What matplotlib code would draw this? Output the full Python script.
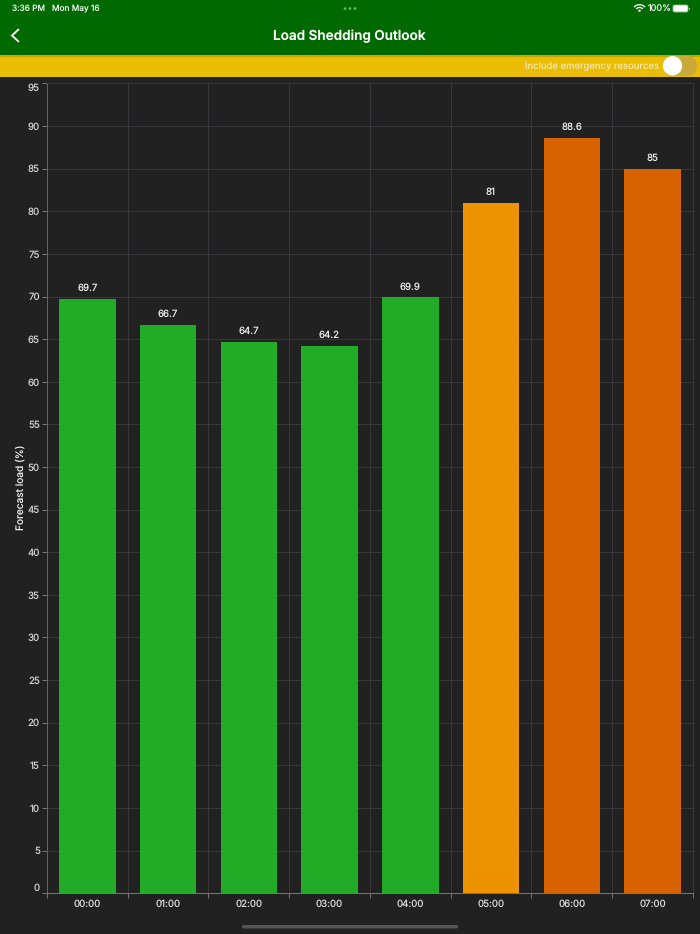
import matplotlib
matplotlib.use('Agg')
import matplotlib.pyplot as plt
from matplotlib.patches import Rectangle, FancyBboxPatch, Circle, Wedge
from matplotlib.lines import Line2D

hours = ['00:00', '01:00', '02:00', '03:00', '04:00', '05:00', '06:00', '07:00']
load = [69.7, 66.7, 64.7, 64.2, 69.9, 81, 88.6, 85]
value_labels = ['69.7', '66.7', '64.7', '64.2', '69.9', '81', '88.6', '85']
colors = ['#22AB26'] * 5 + ['#EE9300', '#D96200', '#D96200']
yticks = list(range(0, 100, 5))

W, H = 700, 934
BG = '#212121'
plt.rcParams['font.family'] = ['Inter', 'Roboto', 'DejaVu Sans']
plt.rcParams['text.hinting'] = 'no_hinting'
plt.rcParams['text.hinting_factor'] = 1
fig = plt.figure(figsize=(W / 100, H / 100), dpi=100, facecolor=BG)

# Chart
L, R, T, B = 46.9, 692.9, 83.4, 893.2
ax = fig.add_axes([L / W, 1 - B / H, (R - L) / W, (B - T) / H], facecolor=BG)
x = list(range(len(hours)))
ax.bar(x, load, width=0.7, color=colors, zorder=3)
ax.set_xlim(-0.5, len(hours) - 0.5)
ax.set_ylim(0, 95)
ax.set_yticks(yticks)
ax.set_yticklabels([str(v) for v in yticks])
ax.set_xticks([i - 0.5 for i in range(len(hours) + 1)])
ax.set_xticklabels([])
ax.set_xticks(x, minor=True)
ax.set_xticklabels(hours, minor=True)
ax.tick_params(axis='x', which='major', length=3.6, width=0.7, color='#777777')
ax.tick_params(axis='x', which='minor', length=0, pad=4.5, labelsize=7, labelcolor='#DADADA')
ax.tick_params(axis='y', which='major', length=3.6, width=0.7, color='#777777', pad=1.5,
               labelsize=7, labelcolor='#D0D0D0')
ax.grid(True, which='major', color='#38383C', linewidth=0.7, zorder=0)
ax.set_axisbelow(True)
for side, col in [('left', '#666666'), ('bottom', '#777777'), ('top', '#38383C'), ('right', '#38383C')]:
    ax.spines[side].set_color(col)
    ax.spines[side].set_linewidth(0.7)
labels = ax.get_yticklabels()
labels[0].set_va('bottom')
labels[-1].set_va('top')
for xi, v, s in zip(x, load, value_labels):
    ax.annotate(s, (xi, v), xytext=(0, 4.2), textcoords='offset points', ha='center',
                va='bottom', fontsize=7, color='#EDEDED', zorder=4)
fig.text(20.5 / W, 1 - 487.5 / H, 'Forecast load (%)', rotation=90, ha='center', va='center',
         fontsize=7.3, color='#F0F0F0')

# App chrome, drawn in pixel coordinates
ov = fig.add_axes([0, 0, 1, 1], facecolor='none')
ov.set_xlim(0, W)
ov.set_ylim(H, 0)
ov.axis('off')
ov.add_patch(Rectangle((0, 0), W, 55, color='#006A00', lw=0))
ov.add_patch(Rectangle((0, 55), W, 22, color='#EABD00', lw=0))
ov.add_patch(Rectangle((0, 55), W, 2, color='#C9A400', lw=0))
ov.text(11.5, 9, '3:36 PM', fontsize=6.0, color='#E8F2E8', va='center', ha='left')
ov.text(52, 9, 'Mon May 16', fontsize=6.0, color='#E8F2E8', va='center', ha='left')
for cx in (345, 350, 355):
    ov.add_patch(Circle((cx, 8.5), 1.4, color='#4FC24F', lw=0))
ov.text(648, 9, '100%', fontsize=6.5, color='#E8F2E8', va='center', ha='left')
for r, th in [(7.5, 1.3), (4.7, 1.3)]:
    ov.add_patch(Wedge((639.5, 11.5), r, 218, 322, width=th, color='white', lw=0))
ov.add_patch(Circle((639.5, 10.7), 1.2, color='white', lw=0))
ov.add_patch(FancyBboxPatch((673, 5), 15, 7, boxstyle='round,pad=0,rounding_size=1.8',
                            fc='white', ec='#8CBF8C', lw=0.6))
ov.add_patch(Rectangle((688.5, 7.5), 1, 2, color='#8CBF8C', lw=0))
ov.add_line(Line2D([18.5, 12, 18.5], [29.5, 35.5, 41.5], color='white', lw=1.3,
                   solid_capstyle='round', solid_joinstyle='miter'))
ov.text(349.5, 36, 'Load Shedding Outlook', fontsize=9.75, fontweight='semibold', color='white',
        ha='center', va='center')
ov.text(659, 66.5, 'Include emergency resources', fontsize=6.85, color='#F6E7A8', ha='right', va='center')
ov.add_patch(FancyBboxPatch((663, 56), 34, 20, boxstyle='round,pad=0,rounding_size=10',
                            fc='#C9A93A', ec='none'))
ov.add_patch(Circle((672.5, 65.8), 9.7, color='white', lw=0))
ov.add_patch(FancyBboxPatch((242, 925), 216, 3.5, boxstyle='round,pad=0,rounding_size=1.7',
                            fc='#555555', ec='none'))

fig.savefig('out.png', dpi=100, facecolor=BG)
